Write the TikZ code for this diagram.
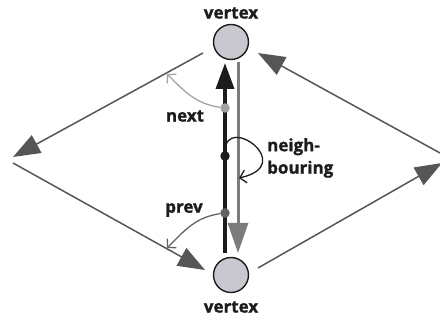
\documentclass[tikz,border=0pt]{standalone}
\usepackage{fontspec}
\setmainfont{Open Sans}[BoldFeatures={FakeBold=1.2}]
\usetikzlibrary{arrows.meta}
\definecolor{edgegrey}{HTML}{565656}
\definecolor{vfill}{HTML}{C8C8CE}
\definecolor{nextgrey}{HTML}{A2A2A2}
\definecolor{prevgrey}{HTML}{626262}
\definecolor{halfgrey}{HTML}{7C7C7C}
\definecolor{ink}{HTML}{1C1C1C}
\tikzset{
  vert/.style={circle, draw=ink, fill=vfill, line width=1.4pt, minimum size=35pt, inner sep=0pt},
  lbl/.style={font=\fontsize{17}{22.5}\selectfont\bfseries, text=ink, inner sep=0pt},
  edge/.style={draw=edgegrey, line width=1.5pt, -{Triangle[length=27pt,width=20pt]}},
  dot/.style={circle, inner sep=0pt, minimum size=9.5pt},
  curl/.style={line width=1.3pt, -{Straight Barb[length=6pt,width=13pt]}},
}
\begin{document}
\begin{tikzpicture}[x=1pt,y=1pt]
\useasboundingbox (0,0) rectangle (440,321);

% the two vertices
\node[vert] (top) at (231,279) {};
\node[vert] (bot) at (231,46) {};
\node[lbl] (toplbl) at (231,308) {vertex};
\node[lbl] (botlbl) at (231,14) {vertex};

% ends of the outer edges
\coordinate (tlstart) at (203,268);
\coordinate (wtip) at (13,164);
\coordinate (wstart) at (13,158);
\coordinate (bltip) at (205,51);
\coordinate (brstart) at (258,53);
\coordinate (etip) at (442,158);
\coordinate (estart) at (440,168);
\coordinate (trtip) at (258,268);

\draw[edge] (tlstart) -- (wtip);
\draw[edge] (wstart) -- (bltip);
\draw[edge] (brstart) -- (etip);
\draw[edge] (estart) -- (trtip);

% the pair of half-edges between the vertices
\coordinate (hbot) at (225,68);
\coordinate (htop) at (225,258);
\coordinate (gtop) at (238,259);
\coordinate (gbot) at (238,68);
\draw[ink, line width=3.5pt, -{Triangle[length=26pt,width=18pt]}] (hbot) -- (htop);
\draw[halfgrey, line width=3pt, -{Triangle[length=30pt,width=20pt]}] (gtop) -- (gbot);

% pointers stored on the half-edge
\node[dot, fill=nextgrey] (nextdot) at (225,213) {};
\node[dot, fill=ink] (nbdot) at (225,165) {};
\node[dot, fill=prevgrey] (prevdot) at (225,108) {};

\coordinate (nexttip) at (167,247);
\coordinate (prevtip) at (167,73);
\coordinate (nbtip) at (239,143);

\draw[curl, nextgrey] (nextdot) to[out=172, in=-45] (nexttip);
\draw[curl, prevgrey] (prevdot) to[out=188, in=45] (prevtip);
\draw[curl, ink] (nbdot.north) .. controls (226,208) and (298,156) .. (nbtip);

\node[lbl] (nextlbl) at (185,205) {next};
\node[lbl] (prevlbl) at (184,111) {prev};
\node[lbl, anchor=west, align=left] (nblbl) at (267,163) {neigh-\\bouring};
\end{tikzpicture}
\end{document}
